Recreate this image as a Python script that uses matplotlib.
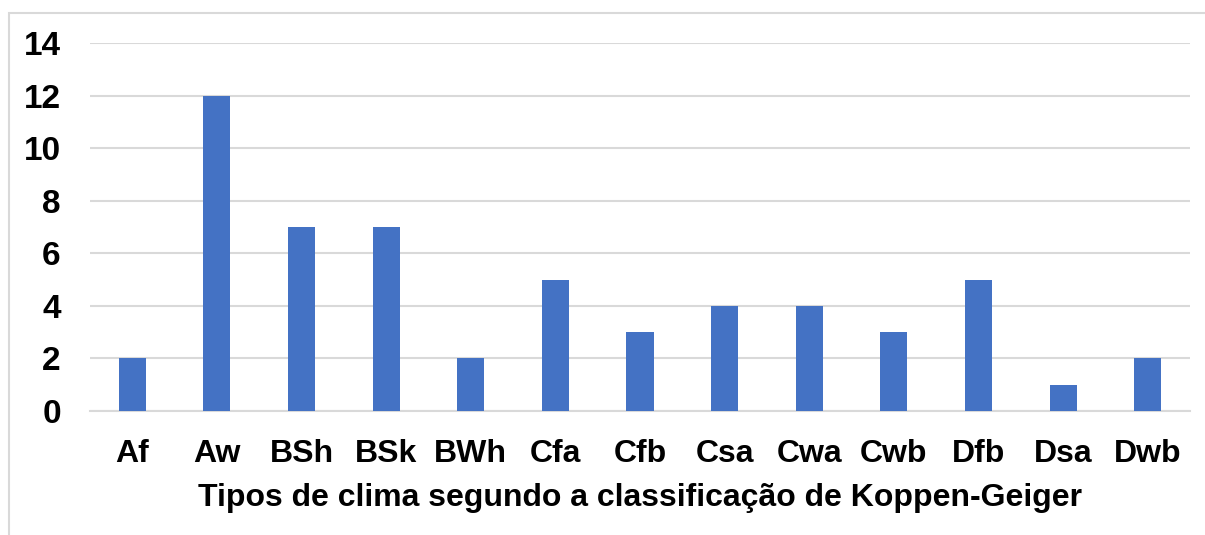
import matplotlib
matplotlib.use("Agg")
import matplotlib.pyplot as plt
from matplotlib.patches import Rectangle

plt.rcParams['font.family'] = ['Liberation Sans', 'DejaVu Sans']

climas = ["Af", "Aw", "BSh", "BSk", "BWh", "Cfa", "Cfb", "Csa", "Cwa", "Cwb", "Dfb", "Dsa", "Dwb"]
contagens = [2, 12, 7, 7, 2, 5, 3, 4, 4, 3, 5, 1, 2]
yticks = [0, 2, 4, 6, 8, 10, 12, 14]

fig = plt.figure(figsize=(12.05, 5.35), dpi=100)
ax = fig.add_axes([90 / 1205, 1 - 411 / 535, 1100 / 1205, 368 / 535])

x = list(range(len(climas)))
ax.bar(x, contagens, width=0.32, color="#4472C4", zorder=3)

ax.set_xlim(-0.5, len(climas) - 0.5)
ax.set_ylim(0, 14)
ax.set_yticks(yticks)
ax.set_xticks(x)
ax.set_xticklabels(climas, fontsize=23, fontweight="bold")
ax.set_yticklabels([str(v) for v in yticks], fontsize=24, fontweight="bold")
ax.tick_params(axis="both", length=0)
ax.tick_params(axis="y", pad=21)
ax.tick_params(axis="x", pad=20)

ax.grid(axis="y", color="#D9D9D9", linewidth=1.5, zorder=0)
for s in ["top", "right", "left"]:
    ax.spines[s].set_visible(False)
ax.spines["bottom"].set_color("#D9D9D9")
ax.spines["bottom"].set_linewidth(1.5)

ax.set_xlabel("Tipos de clima segundo a classificação de Koppen-Geiger",
              fontsize=23, fontweight="bold", labelpad=10)

# moldura do gráfico (sai pela direita e por baixo)
fig.patches.append(Rectangle((8.5 / 1205, -0.05), 1.2, 1 - 12.5 / 535 + 0.05,
                             transform=fig.transFigure, fill=False,
                             edgecolor="#D9D9D9", linewidth=1.5))

fig.savefig("out.png", dpi=100)
